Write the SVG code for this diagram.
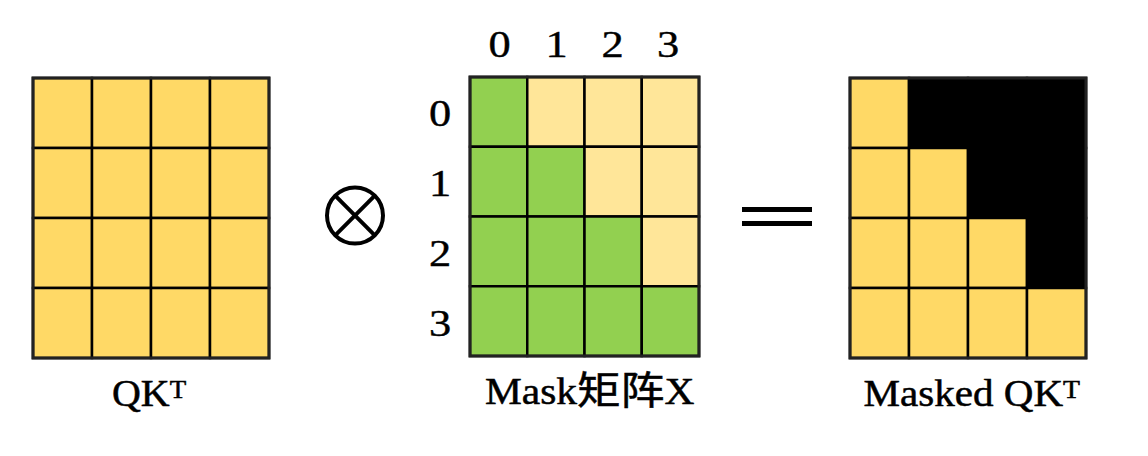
<svg xmlns="http://www.w3.org/2000/svg" width="1148" height="456" viewBox="0 0 1148 456">
  <style>
    .y { fill: #FFD966; stroke: #000; stroke-width: 2.5; }
    .ly { fill: #FFE699; stroke: #000; stroke-width: 2.5; }
    .g { fill: #92D050; stroke: #000; stroke-width: 2.5; }
    .k { fill: #000; stroke: #000; stroke-width: 2.5; }
    .frame { fill: none; stroke: #222; stroke-width: 3; }
    .lbl { font-family: "Liberation Serif", "Noto Sans CJK SC", serif; font-size: 37px; fill: #000; stroke: #000; stroke-width: 0.5; }
    .num { font-family: "Liberation Serif", serif; font-size: 37px; fill: #000; stroke: #000; stroke-width: 0.4; text-anchor: middle; }
    .sup { font-size: 25px; }
    .cjk { font-size: 39px; }
  </style>
  <rect width="1148" height="456" fill="#fff"/>

  <g id="grid-qkt">
    <rect class="y" x="33" y="78" width="59" height="70"/>
    <rect class="y" x="92" y="78" width="59" height="70"/>
    <rect class="y" x="151" y="78" width="59" height="70"/>
    <rect class="y" x="210" y="78" width="59" height="70"/>
    <rect class="y" x="33" y="148" width="59" height="70"/>
    <rect class="y" x="92" y="148" width="59" height="70"/>
    <rect class="y" x="151" y="148" width="59" height="70"/>
    <rect class="y" x="210" y="148" width="59" height="70"/>
    <rect class="y" x="33" y="218" width="59" height="70"/>
    <rect class="y" x="92" y="218" width="59" height="70"/>
    <rect class="y" x="151" y="218" width="59" height="70"/>
    <rect class="y" x="210" y="218" width="59" height="70"/>
    <rect class="y" x="33" y="288" width="59" height="70"/>
    <rect class="y" x="92" y="288" width="59" height="70"/>
    <rect class="y" x="151" y="288" width="59" height="70"/>
    <rect class="y" x="210" y="288" width="59" height="70"/>
    <rect class="frame" x="33" y="78" width="236" height="280"/>
    <g transform="translate(112,406) scale(1.08,1)">
      <text class="lbl" x="0" y="0">QK<tspan class="sup" dy="-8">T</tspan></text>
    </g>
  </g>

  <g id="op-mul">
    <circle cx="355" cy="215.5" r="28" fill="none" stroke="#000" stroke-width="4"/>
    <line x1="335.2" y1="195.7" x2="374.8" y2="235.3" stroke="#000" stroke-width="4"/>
    <line x1="374.8" y1="195.7" x2="335.2" y2="235.3" stroke="#000" stroke-width="4"/>
  </g>

  <g id="grid-mask">
    <text class="num" transform="translate(499.5,57) scale(1.2,1)">0</text>
    <text class="num" transform="translate(556.5,57) scale(1.2,1)">1</text>
    <text class="num" transform="translate(612.5,57) scale(1.2,1)">2</text>
    <text class="num" transform="translate(668,57) scale(1.2,1)">3</text>
    <text class="num" transform="translate(440,126) scale(1.2,1)">0</text>
    <text class="num" transform="translate(440,196) scale(1.2,1)">1</text>
    <text class="num" transform="translate(440,266) scale(1.2,1)">2</text>
    <text class="num" transform="translate(440,336) scale(1.2,1)">3</text>

    <rect class="g" x="470" y="77" width="57.25" height="69.75"/>
    <rect class="ly" x="527.25" y="77" width="57.25" height="69.75"/>
    <rect class="ly" x="584.5" y="77" width="57.25" height="69.75"/>
    <rect class="ly" x="641.75" y="77" width="57.25" height="69.75"/>
    <rect class="g" x="470" y="146.75" width="57.25" height="69.75"/>
    <rect class="g" x="527.25" y="146.75" width="57.25" height="69.75"/>
    <rect class="ly" x="584.5" y="146.75" width="57.25" height="69.75"/>
    <rect class="ly" x="641.75" y="146.75" width="57.25" height="69.75"/>
    <rect class="g" x="470" y="216.5" width="57.25" height="69.75"/>
    <rect class="g" x="527.25" y="216.5" width="57.25" height="69.75"/>
    <rect class="g" x="584.5" y="216.5" width="57.25" height="69.75"/>
    <rect class="ly" x="641.75" y="216.5" width="57.25" height="69.75"/>
    <rect class="g" x="470" y="286.25" width="57.25" height="69.75"/>
    <rect class="g" x="527.25" y="286.25" width="57.25" height="69.75"/>
    <rect class="g" x="584.5" y="286.25" width="57.25" height="69.75"/>
    <rect class="g" x="641.75" y="286.25" width="57.25" height="69.75"/>
    <rect class="frame" x="470" y="77" width="229" height="279"/>
    <g transform="translate(485,404) scale(1.12,1)">
      <text class="lbl" x="0" y="0">Mask<tspan class="cjk">矩阵</tspan>X</text>
    </g>
  </g>

  <g id="op-eq">
    <rect x="742" y="207" width="70" height="5" fill="#000"/>
    <rect x="742" y="221" width="70" height="5" fill="#000"/>
  </g>

  <g id="grid-masked">
    <rect class="y" x="850" y="78" width="59" height="70"/>
    <rect class="k" x="909" y="78" width="59" height="70"/>
    <rect class="k" x="968" y="78" width="59" height="70"/>
    <rect class="k" x="1027" y="78" width="59" height="70"/>
    <rect class="y" x="850" y="148" width="59" height="70"/>
    <rect class="y" x="909" y="148" width="59" height="70"/>
    <rect class="k" x="968" y="148" width="59" height="70"/>
    <rect class="k" x="1027" y="148" width="59" height="70"/>
    <rect class="y" x="850" y="218" width="59" height="70"/>
    <rect class="y" x="909" y="218" width="59" height="70"/>
    <rect class="y" x="968" y="218" width="59" height="70"/>
    <rect class="k" x="1027" y="218" width="59" height="70"/>
    <rect class="y" x="850" y="288" width="59" height="70"/>
    <rect class="y" x="909" y="288" width="59" height="70"/>
    <rect class="y" x="968" y="288" width="59" height="70"/>
    <rect class="y" x="1027" y="288" width="59" height="70"/>
    <rect class="frame" x="850" y="78" width="236" height="280"/>
    <g transform="translate(863.5,406) scale(1.11,1)">
      <text class="lbl" x="0" y="0">Masked QK<tspan class="sup" dy="-8">T</tspan></text>
    </g>
  </g>

  <g id="connectors"/>
</svg>
